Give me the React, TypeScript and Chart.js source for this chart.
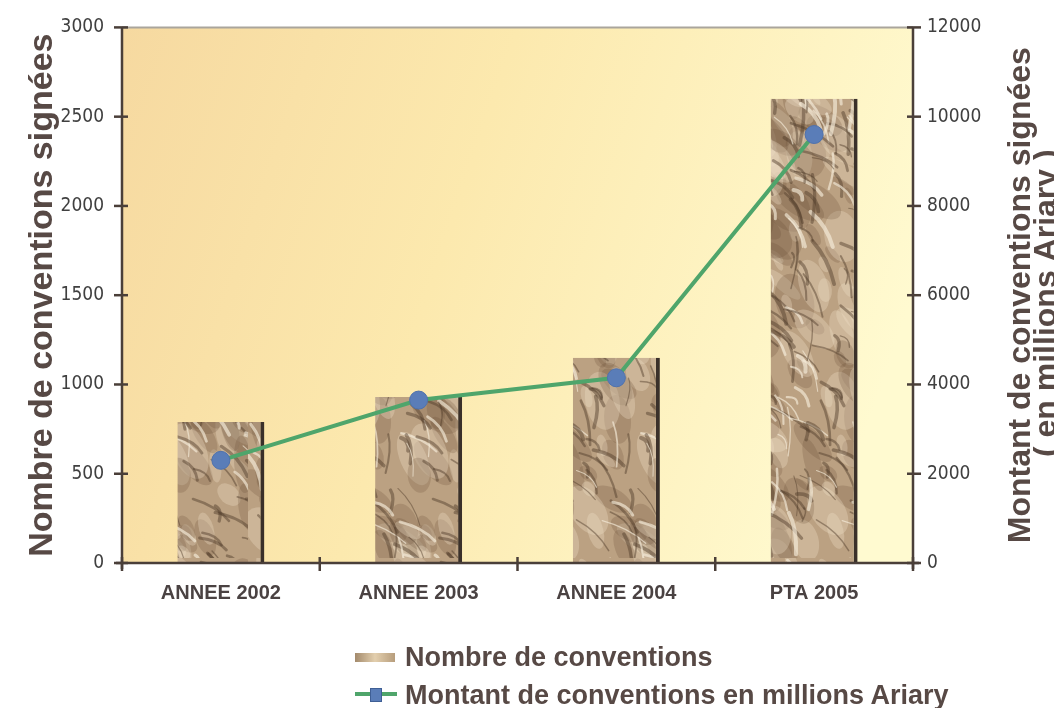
import React, { useEffect, useRef } from 'react';
import { Chart, registerables } from 'chart.js';

Chart.register(...registerables);

const categories = ['ANNEE 2002', 'ANNEE 2003', 'ANNEE 2004', 'PTA 2005'];
const nombreConventions = [790, 930, 1150, 2600];
const montantConventions = [2300, 3650, 4150, 9600];
const leftAxisRange = [0, 3000, 500];
const rightAxisRange = [0, 12000, 2000];
const leftAxisTitle = 'Nombre de conventions signées';
const rightAxisTitle = ['Montant de conventions signées', '( en millions Ariary )'];
const legendLabels = ['Nombre de conventions', 'Montant de conventions en millions Ariary'];

const W = 1046;
const CW = 1054;
const H = 700;
const SHIFT = 10;
const CH = H + SHIFT;
const TEXT = '#574945';
const AXIS = '#4a3f39';
const NARROW = '"Liberation Sans Narrow", "DejaVu Sans Condensed", "Arial Narrow", "Liberation Sans", sans-serif';

function makeTexture(ctx: CanvasRenderingContext2D): CanvasPattern | string {
  const c = document.createElement('canvas');
  c.width = 240;
  c.height = 560;
  const g = c.getContext('2d');
  if (!g) return '#bfa685';
  g.fillStyle = '#bba182';
  g.fillRect(0, 0, c.width, c.height);
  const h = (n: number) => {
    const s = Math.sin(n * 127.1 + 11.3) * 43758.5453;
    return s - Math.floor(s);
  };
  for (let i = 0; i < 260; i++) {
    const x = h(i + 5000) * c.width;
    const y = h(i + 6000) * c.height;
    const r = 8 + h(i + 7000) * 22;
    const light = i % 2 === 0;
    g.fillStyle = light ? 'rgba(238,224,198,0.32)' : 'rgba(98,74,50,0.22)';
    g.beginPath();
    g.ellipse(x, y, r, r * (0.3 + h(i + 8000) * 0.4), 0.5 + h(i + 9000) * 1.0, 0, Math.PI * 2);
    g.fill();
  }
  for (let i = 0; i < 360; i++) {
    const x = h(i) * c.width;
    const y = h(i + 1000) * c.height;
    const len = 12 + h(i + 2000) * 38;
    const ang = 0.4 + h(i + 3000) * 1.3;
    g.strokeStyle = i % 3 === 0 ? 'rgba(246,236,218,0.65)' : 'rgba(78,58,40,0.45)';
    g.lineWidth = 1 + h(i + 4000) * 3;
    g.lineCap = 'round';
    g.beginPath();
    g.moveTo(x, y);
    g.quadraticCurveTo(
      x + Math.cos(ang) * len * 0.5 + 5,
      y + Math.sin(ang) * len * 0.5 - 4,
      x + Math.cos(ang) * len,
      y + Math.sin(ang) * len
    );
    g.stroke();
  }
  return ctx.createPattern(c, 'repeat') || '#bfa685';
}

const decor = {
  id: 'decor',
  beforeDraw(chart: any) {
    const { ctx, chartArea: a } = chart;
    ctx.save();
    const grad = ctx.createLinearGradient(a.left, a.top, a.right, a.top + (a.bottom - a.top) * 0.5);
    grad.addColorStop(0, '#f6d9a0');
    grad.addColorStop(0.45, '#fce9ae');
    grad.addColorStop(1, '#fffad0');
    ctx.fillStyle = grad;
    ctx.fillRect(a.left, a.top, a.right - a.left, a.bottom - a.top);
    ctx.strokeStyle = '#aaa59c';
    ctx.lineWidth = 2;
    ctx.beginPath();
    ctx.moveTo(a.left, a.top);
    ctx.lineTo(a.right, a.top);
    ctx.stroke();
    ctx.restore();
  },
  afterDraw(chart: any) {
    const { ctx, chartArea: a, scales } = chart;
    const ys = scales.y;
    const y1 = scales.y1;
    const xs = scales.x;
    ctx.save();
    ctx.strokeStyle = AXIS;
    ctx.lineWidth = 2.5;
    const line = (x0: number, yA: number, x1: number, yB: number) => {
      ctx.beginPath();
      ctx.moveTo(x0, yA);
      ctx.lineTo(x1, yB);
      ctx.stroke();
    };
    line(a.left, a.top, a.left, a.bottom + 6);
    line(a.right, a.top, a.right, a.bottom + 6);
    line(a.left - 6, a.bottom, a.right + 6, a.bottom);
    ys.ticks.forEach((t: any) => {
      const p = ys.getPixelForValue(t.value);
      line(a.left - 8, p, a.left + 6, p);
    });
    y1.ticks.forEach((t: any) => {
      const p = y1.getPixelForValue(t.value);
      line(a.right - 6, p, a.right + 8, p);
    });
    const step = xs.getPixelForValue(1) - xs.getPixelForValue(0);
    for (let i = 0; i <= categories.length; i++) {
      const x = xs.getPixelForValue(0) - step / 2 + i * step;
      line(x, a.bottom - 6, x, a.bottom + 8);
    }
    ctx.fillStyle = TEXT;
    ctx.font = 'bold 34px "Liberation Sans", Arial, sans-serif';
    ctx.textAlign = 'center';
    ctx.textBaseline = 'middle';
    const cy = (a.top + a.bottom) / 2;
    ctx.save();
    ctx.translate(35, cy);
    ctx.rotate(-Math.PI / 2);
    ctx.fillText(leftAxisTitle, 0, 0);
    ctx.restore();
    ctx.save();
    ctx.translate(1013, cy);
    ctx.rotate(-Math.PI / 2);
    ctx.font = 'bold 32px "Liberation Sans", Arial, sans-serif';
    ctx.fillText(rightAxisTitle[0], 0, 0);
    ctx.fillText(rightAxisTitle[1], -8, 26);
    ctx.restore();
    ctx.restore();
  },
};

export default function App() {
  const ref = useRef<HTMLCanvasElement | null>(null);
  useEffect(() => {
    const canvas = ref.current;
    if (!canvas) return;
    const ctx = canvas.getContext('2d');
    if (!ctx) return;
    const pattern = makeTexture(ctx);
    const tickFont = { family: NARROW, size: 19 };
    const chart = new Chart(canvas, {
      type: 'bar',
      data: {
        labels: categories,
        datasets: [
          {
            type: 'line',
            label: legendLabels[1],
            data: montantConventions,
            yAxisID: 'y1',
            borderColor: '#4fa56b',
            borderWidth: 4,
            pointRadius: 9,
            pointBackgroundColor: '#5a7db8',
            pointBorderColor: '#4f72ad',
            pointBorderWidth: 1,
            tension: 0,
            order: 0,
          } as any,
          {
            type: 'bar',
            label: legendLabels[0],
            data: nombreConventions,
            yAxisID: 'y',
            backgroundColor: pattern as any,
            borderColor: '#3a302a',
            borderWidth: { top: 0, left: 0, bottom: 0, right: 4 },
            barPercentage: 0.44,
            categoryPercentage: 1,
            order: 1,
          } as any,
        ],
      },
      options: {
        responsive: false,
        animation: false,
        layout: { padding: { top: 9, left: 0, right: 0, bottom: 0 } },
        plugins: { legend: { display: false }, tooltip: { enabled: false } },
        scales: {
          x: {
            grid: { display: false, drawTicks: false },
            border: { display: false },
            ticks: {
              color: '#4a4242',
              padding: 18,
              font: { family: '"Liberation Sans", Arial, sans-serif', size: 20, weight: 'bold' },
            },
            afterFit: (s: any) => {
              s.height = 145;
            },
          },
          y: {
            position: 'left',
            min: leftAxisRange[0],
            max: leftAxisRange[1],
            ticks: {
              stepSize: leftAxisRange[2],
              padding: 18,
              color: '#404040',
              font: tickFont,
              callback: (v: any) => String(v),
            },
            grid: { display: false, drawTicks: false },
            border: { display: false },
            afterFit: (s: any) => {
              s.width = 114;
            },
          },
          y1: {
            position: 'right',
            min: rightAxisRange[0],
            max: rightAxisRange[1],
            ticks: {
              stepSize: rightAxisRange[2],
              padding: 14,
              color: '#404040',
              font: tickFont,
              callback: (v: any) => String(v),
            },
            grid: { display: false, drawTicks: false },
            border: { display: false },
            afterFit: (s: any) => {
              s.width = 149;
            },
          },
        },
      } as any,
      plugins: [decor],
    });
    return () => chart.destroy();
  }, []);

  const legendText: React.CSSProperties = {
    position: 'absolute',
    left: 397,
    height: 34,
    lineHeight: '34px',
    fontFamily: '"Liberation Sans", Arial, sans-serif',
    fontWeight: 'bold',
    fontSize: 27,
    color: TEXT,
    whiteSpace: 'nowrap',
  };

  return (
    <div style={{ position: 'relative', width: W, height: H, background: '#ffffff' }}>
      <div style={{ position: 'absolute', left: -3, top: -8, width: 2, height: H + 16, background: '#9a9a9a' }} />
      <canvas
        ref={ref}
        width={CW}
        height={CH}
        style={{ position: 'absolute', left: 0, top: -SHIFT, display: 'block', width: CW, height: CH }}
      />
      <div
        style={{
          position: 'absolute',
          left: 347,
          top: 645,
          width: 40,
          height: 9,
          background: 'linear-gradient(90deg, #a38a6c 0%, #e3cfae 50%, #b79d7c 100%)',
        }}
      />
      <div style={{ ...legendText, top: 632 }}>{legendLabels[0]}</div>
      <div style={{ position: 'absolute', left: 347, top: 684, width: 42, height: 4, background: '#4fa56b' }} />
      <div
        style={{
          position: 'absolute',
          left: 362,
          top: 680,
          width: 10,
          height: 12,
          background: '#5a7db8',
          border: '1px solid #3f5f95',
        }}
      />
      <div style={{ ...legendText, top: 670 }}>{legendLabels[1]}</div>
    </div>
  );
}
